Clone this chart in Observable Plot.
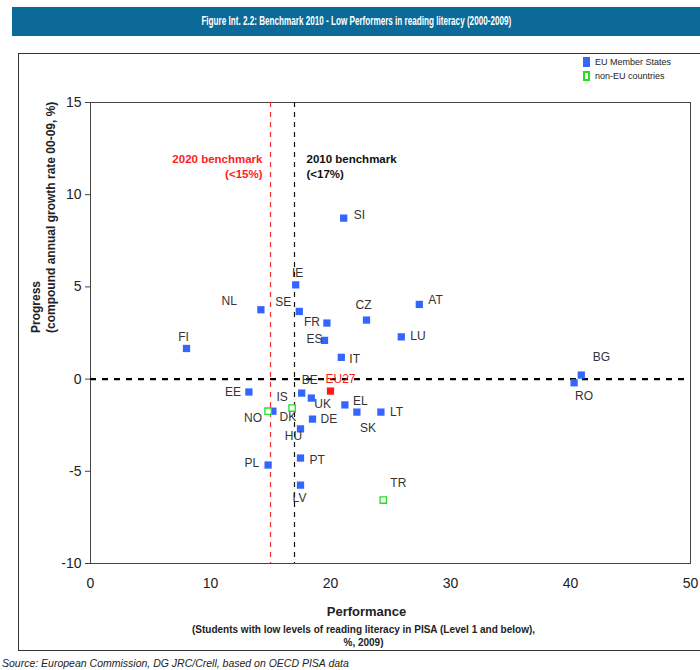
<!DOCTYPE html>
<html>
<head>
<meta charset="utf-8">
<script src="https://cdn.jsdelivr.net/npm/d3@7"></script>
<script src="https://cdn.jsdelivr.net/npm/@observablehq/plot@0.6"></script>
<style>
  html, body { margin: 0; padding: 0; background: #fff; }
  #page { position: relative; width: 700px; height: 670px; overflow: hidden; background: #fff; font-family: "Liberation Sans", Arial, sans-serif; }
  #title { position: absolute; left: 12px; top: 7px; width: 688px; height: 29px; background: #0b6a97; color: #fff;
           font: bold 12.5px "Liberation Sans", Arial, sans-serif; line-height: 29px; text-align: center; }
  #title span { display: inline-block; transform: scaleX(0.65); transform-origin: center; white-space: nowrap; }
  #frame { position: absolute; left: 18px; top: 53px; width: 700px; height: 598px; border: 1.5px solid #333; box-sizing: border-box; }
  #chart { position: absolute; left: 0; top: 40px; }
  #legend { position: absolute; left: 583px; top: 55px; font-size: 9px; color: #222; line-height: 14px; }
  #legend .row { display: flex; align-items: center; height: 14px; }
  #legend .sw { width: 7px; height: 10px; margin-right: 5px; box-sizing: border-box; }
  #source { position: absolute; left: 2px; top: 657px; font-size: 10.5px; font-style: italic; color: #222; }
</style>
</head>
<body>
<div id="page">
  <div id="title"><span>Figure Int. 2.2: Benchmark 2010 - Low Performers in reading literacy (2000-2009)</span></div>
  <div id="frame"></div>
  <div id="chart"></div>
  <div id="legend"></div>
  <div id="source">Source: European Commission, DG JRC/Crell, based on OECD PISA data</div>
</div>
<script>
// ---- data ----
const countries   = ["SI","IE","NL","SE","AT","CZ","FR","ES","LU","FI","IT","BG","RO","BE","EU27","EE","UK","EL","SK","LT","NO","DK","IS","DE","HU","PT","PL","LV","TR"];
const performance = [21.1,17.1,14.2,17.4,27.4,23.0,19.7,19.5,25.9,8.0,20.9,40.9,40.3,17.6,20.0,13.2,18.4,21.2,22.2,24.2,14.8,15.2,16.8,18.5,17.5,17.5,14.8,17.5,24.4];
const progress    = [8.73,5.11,3.76,3.67,4.05,3.2,3.04,2.1,2.29,1.66,1.18,0.22,-0.2,-0.76,-0.65,-0.7,-1.03,-1.4,-1.79,-1.79,-1.74,-1.74,-1.57,-2.17,-2.7,-4.28,-4.66,-5.75,-6.56];
const groups      = ["EU","EU","EU","EU","EU","EU","EU","EU","EU","EU","EU","EU","EU","EU","EU27","EU","EU","EU","EU","EU","non-EU","EU","non-EU","EU","EU","EU","EU","EU","non-EU"];
const benchmarks  = [15, 17];
const benchmarkLabels = ["2020 benchmark\n(<15%)", "2010 benchmark\n(<17%)"];
const xTicks = [0, 10, 20, 30, 40, 50];
const yTicks = [-10, -5, 0, 5, 10, 15];
const legendLabels = ["EU Member States", "non-EU countries"];

// ---- label placement (pixel offsets, anchor) ----
const labelLayout = {
  SI:[10,-3,"start"], IE:[2,-12,"middle"], NL:[-24,-9,"end"], SE:[-8,-9,"end"], AT:[9,-4,"start"],
  CZ:[-3,-15,"middle"], FR:[-7,-1,"end"], ES:[-2,-1,"end"], LU:[9,-1,"start"], FI:[-3,-11,"middle"],
  IT:[8,2,"start"], BG:[20,-18,"middle"], RO:[10,13,"middle"], BE:[8,-13,"middle"], EU27:[10,-12,"middle"],
  EE:[-8,0,"end"], UK:[3,6,"start"], EL:[8,-4,"start"], SK:[11,16,"middle"], LT:[9,0,"start"],
  NO:[-6,7,"end"], DK:[15,6,"middle"], IS:[-10,-11,"middle"], DE:[8,0,"start"], HU:[-7,7,"middle"],
  PT:[9,2,"start"], PL:[-9,-2,"end"], LV:[-1,13,"middle"], TR:[15,-17,"middle"]
};

const colors = { EU: "#3366ff", "EU27": "#ff1a1a", "non-EU": "#22e022" };

const rows = countries.map((c, i) => ({ code: c, x: performance[i], y: progress[i], group: groups[i] }));
const benchRows = benchmarks.map((b, i) => ({ x: b, label: benchmarkLabels[i] }));

const labelMarks = rows.map(r => {
  const [dx, dy, anchor] = labelLayout[r.code];
  return Plot.text([r], {
    x: "x", y: "y", text: "code", dx, dy, textAnchor: anchor,
    fill: r.group === "EU27" ? "#ff1a1a" : "#333", fontSize: 12
  });
});

const chart = Plot.plot({
  width: 700,
  height: 620,
  marginLeft: 90,
  marginRight: 10,
  marginTop: 62,
  marginBottom: 97,
  style: { fontFamily: "'Liberation Sans', Arial, sans-serif", color: "#222", background: "transparent" },
  x: { domain: [0, 50], label: null },
  y: { domain: [-10, 15], label: null },
  marks: [
    Plot.frame({ stroke: "#444", strokeWidth: 1 }),
    Plot.axisX(xTicks, { tickSize: 0, tickPadding: 15, fontSize: 14, fill: "#222", tickFormat: d => String(d) }),
    Plot.axisY(yTicks, { tickSize: 5, tickPadding: 4, fontSize: 14, fill: "#222", stroke: "#444", tickFormat: d => String(d) }),
    Plot.ruleX([benchmarks[0]], { stroke: "#f03030", strokeWidth: 1.2, strokeDasharray: "5,5" }),
    Plot.ruleX([benchmarks[1]], { stroke: "#111", strokeWidth: 1.2, strokeDasharray: "5,5" }),
    Plot.ruleY([0], { stroke: "#000", strokeWidth: 2.2, strokeDasharray: "6,6" }),
    Plot.text([benchRows[0]], { x: "x", text: "label", frameAnchor: "top", dy: 63.5, dx: -8, textAnchor: "end",
      lineAnchor: "middle", lineHeight: 1.3, fill: "#ff2020", fontWeight: "bold", fontSize: 11.5 }),
    Plot.text([benchRows[1]], { x: "x", text: "label", frameAnchor: "top", dy: 63.5, dx: 12, textAnchor: "start",
      lineAnchor: "middle", lineHeight: 1.3, fill: "#111", fontWeight: "bold", fontSize: 11.5 }),
    Plot.dot(rows.filter(r => r.group !== "non-EU"), { x: "x", y: "y", symbol: "square", r: 4.1,
      fill: d => colors[d.group], stroke: "none" }),
    Plot.dot(rows.filter(r => r.group === "non-EU"), { x: "x", y: "y", symbol: "square", r: 3.6,
      fill: "#fff", stroke: colors["non-EU"], strokeWidth: 1.3 }),
    ...labelMarks,
    Plot.text(["Progress\n(compound annual growth rate 00-09, %)"], { frameAnchor: "left", rotate: -90, dx: -48,
      lineAnchor: "middle", lineHeight: 1.3, fontWeight: "bold", fontSize: 12, fill: "#222" }),
    Plot.text(["Performance"], { frameAnchor: "bottom", dx: -24, dy: 48, lineAnchor: "middle",
      fontWeight: "bold", fontSize: 13, fill: "#222" }),
    Plot.text(["(Students with low levels of reading literacy in PISA (Level 1 and below),\n%, 2009)"],
      { frameAnchor: "bottom", dx: -27, dy: 71.5, lineAnchor: "middle", lineHeight: 1.35,
        fontWeight: "bold", fontSize: 10, fill: "#222" })
  ]
});
document.getElementById("chart").appendChild(chart);

// legend
const legend = document.getElementById("legend");
legendLabels.forEach((lab, i) => {
  const row = document.createElement("div");
  row.className = "row";
  const sw = document.createElement("span");
  sw.className = "sw";
  if (i === 0) { sw.style.background = colors.EU; }
  else { sw.style.border = "2px solid " + colors["non-EU"]; sw.style.background = "#fff"; }
  const t = document.createElement("span");
  t.textContent = lab;
  row.appendChild(sw); row.appendChild(t);
  legend.appendChild(row);
});
</script>
</body>
</html>
